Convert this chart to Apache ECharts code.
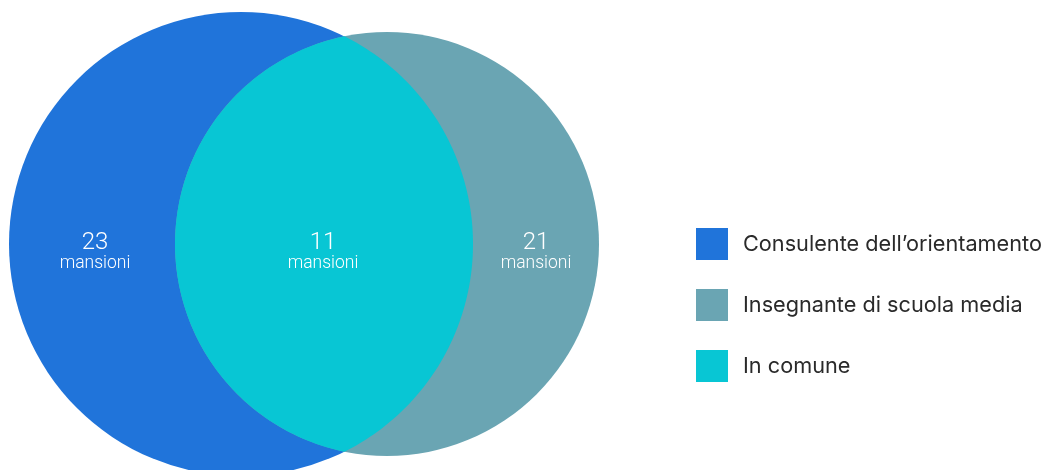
<!DOCTYPE html>
<html>
<head>
<meta charset="utf-8">
<style>
html, body { margin: 0; padding: 0; background: #fff; }
#main { width: 1050px; height: 470px; }
</style>
<script src="https://cdn.jsdelivr.net/npm/echarts@6/dist/echarts.min.js"></script>
</head>
<body>
<div id="main"></div>
<script>
// dati
var categories = ['Consulente dell\u2019orientamento', 'Insegnante di scuola media', 'In comune'];
var counts = [23, 21, 11];
var unitLabel = 'mansioni';

// stile
var colors = ['#2074da', '#6aa5b3', '#08c6d4'];

// layout del diagramma in unità degli assi (1 unità = 1 px)
var circleA = { cx: 241, cy: 244, r: 232 };
var circleB = { cx: 387, cy: 244, r: 212 };
var labelPos = [[95, 252], [536, 252], [323, 252]];

// punti della lente (intersezione dei due cerchi)
function lensPoints(a, b, n) {
    var d = b.cx - a.cx;
    var p = (d * d + a.r * a.r - b.r * b.r) / (2 * d);
    var h = Math.sqrt(a.r * a.r - p * p);
    var tA = Math.atan2(h, p);
    var tB = Math.atan2(h, p - d);
    var pts = [];
    for (var i = 0; i <= n; i++) {
        var t = -tA + 2 * tA * i / n;
        pts.push([a.cx + a.r * Math.cos(t), a.cy + a.r * Math.sin(t)]);
    }
    for (var j = 0; j <= n; j++) {
        var u = tB + (2 * Math.PI - 2 * tB) * j / n;
        pts.push([b.cx + b.r * Math.cos(u), b.cy + b.r * Math.sin(u)]);
    }
    return pts;
}

function labelEl(api, idx) {
    var pt = api.coord(labelPos[idx]);
    return {
        type: 'text',
        x: pt[0], y: pt[1],
        z2: 10,
        style: {
            text: '{n|' + counts[idx] + '}\n{u|' + unitLabel + '}',
            align: 'center',
            verticalAlign: 'middle',
            fill: '#fff',
            rich: {
                n: { fontFamily: 'Roboto', fontWeight: 300, fontSize: 24, lineHeight: 24, fill: '#fff' },
                u: { fontFamily: 'Roboto', fontWeight: 300, fontSize: 17.5, lineHeight: 18, fill: '#fff' }
            }
        }
    };
}

function circleSeries(idx, c) {
    return {
        name: categories[idx],
        type: 'custom',
        coordinateSystem: 'cartesian2d',
        data: [[c.cx, c.cy, c.r]],
        renderItem: function (params, api) {
            var center = api.coord([api.value(0), api.value(1)]);
            var r = api.size([api.value(2), 0])[0];
            return {
                type: 'group',
                children: [
                    { type: 'circle', shape: { cx: center[0], cy: center[1], r: r }, style: { fill: colors[idx] } },
                    labelEl(api, idx)
                ]
            };
        }
    };
}

var myChart = echarts.init(document.getElementById('main'));
myChart.setOption({
    animation: false,
    color: colors,
    grid: { left: 0, top: 0, width: 1050, height: 470 },
    xAxis: { type: 'value', min: 0, max: 1050, show: false },
    yAxis: { type: 'value', min: 0, max: 470, inverse: true, show: false },
    legend: {
        orient: 'vertical',
        left: 696,
        top: 228,
        padding: 0,
        itemWidth: 32,
        itemHeight: 32,
        itemGap: 29,
        icon: 'rect',
        data: categories,
        textStyle: { fontFamily: 'Inter', fontSize: 21.7, color: '#2a2a2a', padding: [0, 0, 0, 10] }
    },
    series: [
        circleSeries(0, circleA),
        circleSeries(1, circleB),
        {
            name: categories[2],
            type: 'custom',
            coordinateSystem: 'cartesian2d',
            data: [[circleA.cx, circleB.cx]],
            renderItem: function (params, api) {
                var pts = lensPoints(circleA, circleB, 120).map(function (p) { return api.coord(p); });
                return {
                    type: 'group',
                    children: [
                        { type: 'polygon', shape: { points: pts }, style: { fill: colors[2] } },
                        labelEl(api, 2)
                    ]
                };
            }
        }
    ]
});
</script>
</body>
</html>
